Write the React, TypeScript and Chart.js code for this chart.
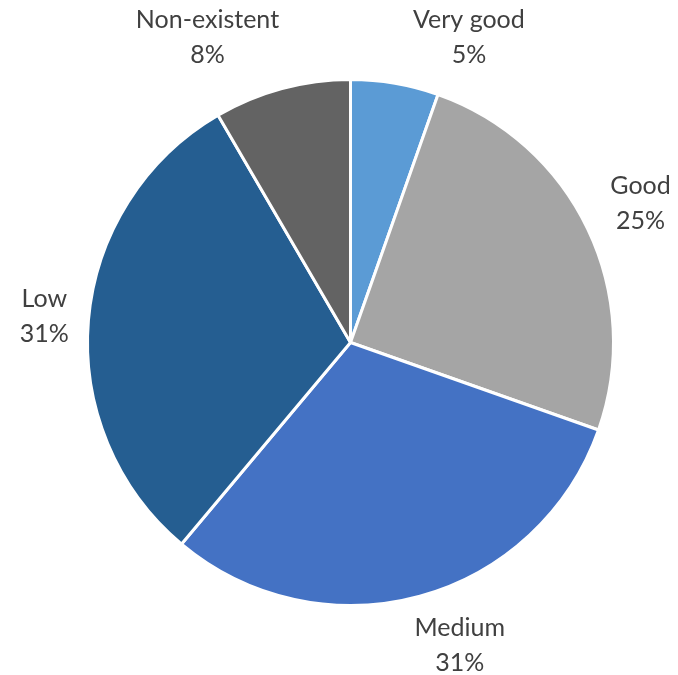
import React, { useEffect, useRef } from "react";
import { Chart, registerables } from "chart.js";

Chart.register(...registerables);

const categories = ["Very good", "Good", "Medium", "Low", "Non-existent"];
const shares = [5.4, 25, 30.7, 30.5, 8.4];
const sliceColors = ["#5B9BD5", "#A5A5A5", "#4472C4", "#255E91", "#636363"];

const W = 678;
const H = 675;

const outsideLabels = {
  id: "outsideLabels",
  afterDraw(chart: any, _args: any, opts: any) {
    const ctx = chart.ctx;
    const meta = chart.getDatasetMeta(0);
    const data = chart.data.datasets[0].data as number[];
    const total = data.reduce((a, b) => a + b, 0);
    const font = opts.font;
    const lineH = opts.lineHeight;
    const gap = opts.gap;
    const padX = opts.padX;
    const topB = opts.top;
    const botB = opts.bottom;
    ctx.save();
    ctx.font = font;
    ctx.fillStyle = opts.color;
    ctx.textAlign = "center";
    ctx.textBaseline = "middle";
    meta.data.forEach((arc: any, i: number) => {
      const p = arc.getProps(["x", "y", "startAngle", "endAngle", "outerRadius"], true);
      const lines = [String(chart.data.labels[i]), Math.round((data[i] / total) * 100) + "%"];
      const tw = Math.max(...lines.map((l) => ctx.measureText(l).width));
      const hw = tw / 2 + padX;
      const hh = (lines.length * lineH) / 2;
      const place = (t: number) => {
        const ux = Math.cos(t);
        const uy = Math.sin(t);
        const d = p.outerRadius + gap + Math.abs(ux) * hw + Math.abs(uy) * hh;
        return { x: p.x + ux * d, y: p.y + uy * d };
      };
      let t = (p.startAngle + p.endAngle) / 2;
      let c = place(t);
      const step = Math.PI / 360;
      for (let k = 0; k < 200; k++) {
        if (c.y - hh < topB) {
          t += Math.cos(t) >= 0 ? step : -step;
        } else if (c.y + hh > botB) {
          t += Math.cos(t) >= 0 ? -step : step;
        } else break;
        c = place(t);
      }
      c.x = Math.min(Math.max(c.x, hw - padX), W - hw + padX);
      lines.forEach((l, j) => {
        ctx.fillText(l, c.x, c.y - hh + lineH * (j + 0.5));
      });
    });
    ctx.restore();
  },
};

export default function App() {
  const ref = useRef<HTMLCanvasElement>(null);
  useEffect(() => {
    document.body.style.margin = "0";
    const chart = new Chart(ref.current!, {
      type: "pie",
      data: {
        labels: categories,
        datasets: [
          {
            data: shares,
            backgroundColor: sliceColors,
            borderColor: "#FFFFFF",
            borderWidth: 3,
          },
        ],
      },
      options: {
        responsive: false,
        animation: false,
        layout: { padding: { left: 86, right: 63, top: 78, bottom: 68 } },
        plugins: {
          legend: { display: false },
          tooltip: { enabled: false },
          outsideLabels: {
            font: "25px Lato",
            color: "#404040",
            lineHeight: 35,
            gap: 8,
            padX: 9,
            top: 2,
            bottom: H + 6,
          },
        } as any,
      },
      plugins: [outsideLabels],
    });
    return () => chart.destroy();
  }, []);
  return (
    <div style={{ position: "fixed", left: 0, top: 0, width: W, height: H, background: "#fff" }}>
      <canvas ref={ref} width={W} height={H} />
    </div>
  );
}
